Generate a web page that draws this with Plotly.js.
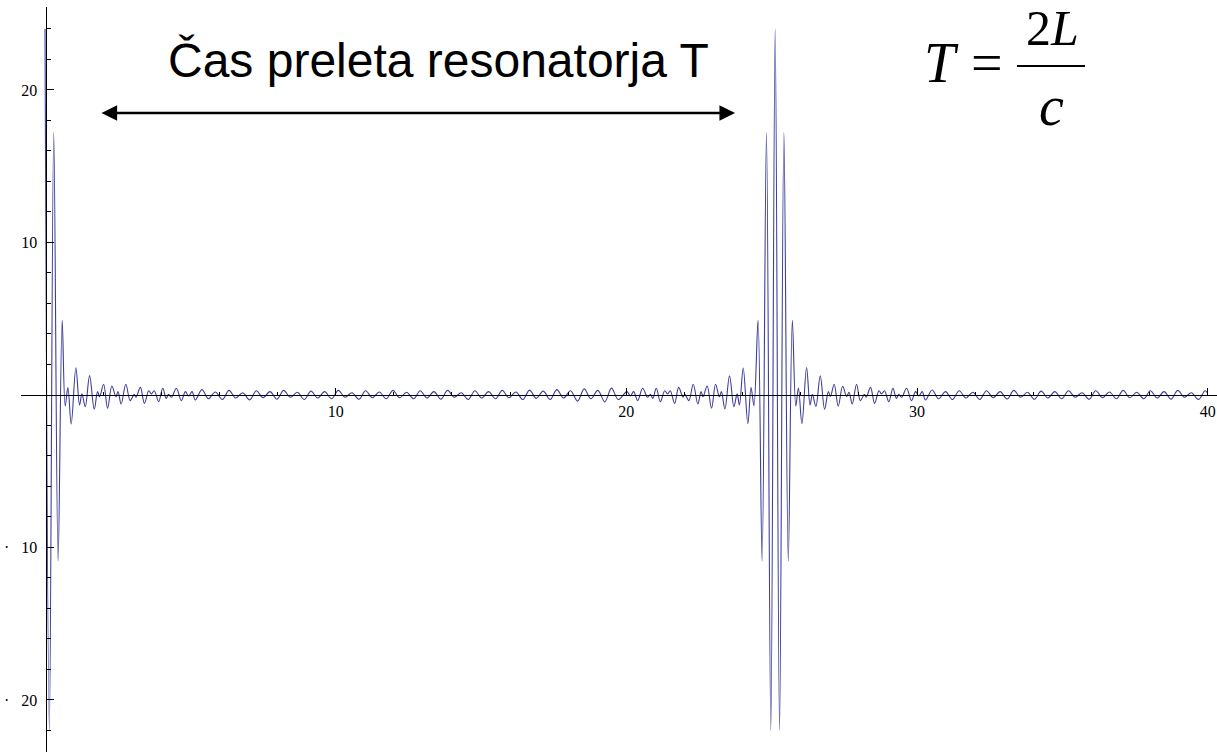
<!DOCTYPE html>
<html>
<head>
<meta charset="utf-8">
<script src="https://cdn.plot.ly/plotly-3.0.1.min.js"></script>
<style>html,body{margin:0;padding:0;background:#fff;}#chart{width:1217px;height:752px;}</style>
</head>
<body>
<div id="chart"></div>
<script>
// ---- data (local extrema of the signal) ----
var pulse1T = [0.00, 0.15, 0.30, 0.45, 0.59];
var pulse1V = [24.0, -22.0, 17.2, -10.9, 4.9];

var tail1T = [0.695, 0.787, 0.901, 1.062, 1.188, 1.269, 1.384, 1.533, 1.694, 1.808, 1.877, 2.015, 2.153, 2.30, 2.44, 2.51, 2.62, 2.78, 2.93, 3.07, 3.13, 3.28, 3.42, 3.57, 3.66, 3.76, 3.91, 4.05, 4.17, 4.25, 4.35, 4.52, 4.69, 4.83, 4.94, 5.06, 5.17];
var tail1V = [-0.72, 0.48, -1.90, 1.79, -0.66, 0.07, -0.77, 1.27, -0.94, 0.22, -0.11, 0.70, -0.87, 0.59, -0.11, 0.22, -0.59, 0.70, -0.37, 0.04, -0.15, 0.50, -0.55, 0.28, 0.07, 0.28, -0.44, 0.44, -0.22, 0.04, -0.15, 0.44, -0.37, 0.22, -0.07, 0.22, -0.33];

var mid1T = [5.40, 5.62, 5.86, 6.10, 6.33, 6.56, 6.80, 7.04, 7.27, 7.50, 7.74, 7.98, 8.21, 8.44, 8.68, 8.92, 9.15, 9.38, 9.62, 9.86, 10.09, 10.32, 10.56, 10.80, 11.03, 11.26, 11.50, 11.74, 11.97, 12.20, 12.44, 12.68, 12.91, 13.14, 13.38, 13.62, 13.85, 14.08, 14.32, 14.56, 14.79, 15.02, 15.26, 15.50, 15.73, 15.96, 16.20, 16.44, 16.67, 16.90, 17.14, 17.38, 17.61, 17.84, 18.08, 18.32, 18.55, 18.78, 19.02, 19.26, 19.49, 19.72];
var mid1V = [0.35, -0.25, 0.20, -0.30, 0.30, -0.20, 0.15, -0.32, 0.28, -0.18,
             0.22, -0.28, 0.30, -0.15, 0.18, -0.30, 0.25, -0.20, 0.22, -0.25,
             0.30, -0.15, 0.15, -0.28, 0.28, -0.18, 0.20, -0.25, 0.30, -0.18,
             0.18, -0.25, 0.28, -0.20, 0.22, -0.28, 0.30, -0.15, 0.15, -0.30,
             0.28, -0.20, 0.22, -0.25, 0.30, -0.18, 0.20, -0.30, 0.32, -0.22,
             0.25, -0.30, 0.35, -0.20, 0.28, -0.40, 0.40, -0.25, 0.30, -0.45,
             0.45, -0.30];

var pre2T = [20.02, 20.14, 20.25, 20.39, 20.56, 20.73, 20.83, 20.91, 21.03, 21.17, 21.32, 21.42, 21.51, 21.66, 21.80, 21.95, 22.01, 22.15, 22.30, 22.46, 22.57, 22.64, 22.78, 22.93, 23.07, 23.20, 23.27, 23.39, 23.55, 23.70, 23.81, 23.89, 24.02, 24.18, 24.29, 24.39];
var pre2V = [0.22, -0.07, 0.22, -0.37, 0.44, -0.15, 0.04, -0.22, 0.44, -0.44, 0.28, 0.07, 0.28, -0.55, 0.50, -0.15, 0.04, -0.37, 0.70, -0.59, 0.22, -0.11, 0.59, -0.87, 0.70, -0.11, 0.22, -0.92, 1.25, -0.77, 0.07, -0.66, 1.77, -1.88, 0.49, -0.71];

var pulse2T = [24.53, 24.67, 24.82, 24.97, 25.12, 25.27, 25.42, 25.57, 25.71];
var pulse2V = [4.9, -10.9, 17.2, -22.0, 24.0, -22.0, 17.2, -10.9, 4.9];

var post2T = [25.83, 25.92, 26.04, 26.20, 26.32, 26.40, 26.52, 26.67, 26.82, 26.95, 27.02, 27.15, 27.29, 27.44, 27.58, 27.66, 27.77, 27.92, 28.05, 28.19, 28.25, 28.40, 28.54, 28.69, 28.78, 28.88, 29.03, 29.17, 29.29, 29.37, 29.47, 29.64, 29.81, 29.95, 30.06, 30.18, 30.29];
var post2V = [-0.72, 0.46, -1.88, 1.80, -0.66, 0.04, -0.75, 1.26, -0.93, 0.22, -0.09, 0.70, -0.74, 0.57, -0.09, 0.18, -0.59, 0.70, -0.37, 0.04, -0.15, 0.50, -0.55, 0.28, 0.07, 0.28, -0.44, 0.44, -0.22, 0.04, -0.15, 0.44, -0.37, 0.22, -0.07, 0.22, -0.33];

var mid2T = [30.52, 30.74, 30.98, 31.22, 31.45, 31.68, 31.92, 32.16, 32.39, 32.62, 32.86, 33.10, 33.33, 33.56, 33.80, 34.04, 34.27, 34.50, 34.74, 34.98, 35.21, 35.44, 35.68, 35.92, 36.15, 36.38, 36.62, 36.86, 37.09, 37.32, 37.56, 37.80, 38.03, 38.26, 38.50, 38.74, 38.97, 39.20, 39.44, 39.68, 39.91, 40.00];
var mid2V = [0.33, -0.25, 0.22, -0.30, 0.28, -0.20, 0.18, -0.30, 0.28, -0.18,
             0.22, -0.26, 0.30, -0.15, 0.18, -0.28, 0.25, -0.20, 0.22, -0.25,
             0.28, -0.15, 0.15, -0.28, 0.28, -0.18, 0.20, -0.25, 0.30, -0.18,
             0.18, -0.25, 0.28, -0.20, 0.22, -0.28, 0.30, -0.15, 0.15, -0.30,
             0.28, 0.10];

// axis ticks
var xTickVals = [10, 20, 30, 40];
var xTickText = ['10', '20', '30', '40'];
var xMinorVals = [2, 4, 6, 8, 12, 14, 16, 18, 22, 24, 26, 28, 32, 34, 36, 38];
var yTickVals = [-20, -10, 10, 20];
var yTickText = ['\u00b7\u00a0\u00a0\u00a020', '\u00b7\u00a0\u00a0\u00a010', '10', '20'];
var yMinorVals = [-22, -18, -16, -14, -12, -8, -6, -4, -2, 2, 4, 6, 8, 12, 14, 16, 18, 22, 24];

// labels
var headline = 'Čas preleta resonatorja T';

var xs = [].concat(pulse1T, tail1T, mid1T, pre2T, pulse2T, post2T, mid2T);
var ys = [].concat(pulse1V, tail1V, mid1V, pre2V, pulse2V, post2V, mid2V);

var W = 1217, H = 752;
var px = function (p) { return p / W; };
var py = function (p) { return 1 - p / H; };

var trace = {
  x: xs, y: ys, type: 'scatter', mode: 'lines',
  line: {color: '#3d3d99', width: 1.1, shape: 'spline', smoothing: 1},
  hoverinfo: 'skip'
};

var serif = 'Liberation Serif, Times New Roman, serif';
var layout = {
  width: W, height: H,
  margin: {l: 0, r: 0, t: 0, b: 0},
  paper_bgcolor: '#ffffff', plot_bgcolor: '#ffffff',
  showlegend: false,
  xaxis: {
    domain: [21 / W, 1],
    range: [-0.826, 40.32],
    anchor: 'free', position: 1 - 395 / H,
    showline: true, linecolor: '#000', linewidth: 1,
    showgrid: false, zeroline: false,
    tickmode: 'array', tickvals: xTickVals, ticktext: xTickText,
    ticks: 'inside', ticklen: 7, tickwidth: 1, tickcolor: '#000',
    ticklabelstandoff: 2,
    tickfont: {family: serif, size: 16, color: '#000'},
    minor: {tickmode: 'array', tickvals: xMinorVals, ticks: 'inside', ticklen: 3, tickwidth: 1, tickcolor: '#000', showgrid: false}
  },
  yaxis: {
    domain: [0, 745 / H],
    range: [-23.41, 25.44],
    anchor: 'free', position: 45.5 / W,
    showline: true, linecolor: '#000', linewidth: 1,
    showgrid: false, zeroline: false,
    tickmode: 'array', tickvals: yTickVals, ticktext: yTickText,
    ticks: 'inside', ticklen: 7, tickwidth: 1, tickcolor: '#000',
    ticklabelstandoff: 5,
    tickfont: {family: serif, size: 16, color: '#000'},
    minor: {tickmode: 'array', tickvals: yMinorVals, ticks: 'inside', ticklen: 4, tickwidth: 1, tickcolor: '#000', showgrid: false}
  },
  shapes: [
    {type: 'line', xref: 'paper', yref: 'paper', x0: px(1017), x1: px(1085), y0: py(66), y1: py(66), line: {color: '#000', width: 2}}
  ],
  annotations: [
    {xref: 'paper', yref: 'paper', x: px(438.5), y: py(61), xanchor: 'center', yanchor: 'middle', showarrow: false,
     text: headline, font: {family: 'Liberation Sans, Arial, sans-serif', size: 48, color: '#000'}},
    {xref: 'x', yref: 'y', axref: 'x', ayref: 'y', x: 23.74, y: 18.49, ax: 1.892, ay: 18.49, text: '',
     showarrow: true, arrowside: 'end+start', arrowhead: 2, startarrowhead: 2, arrowsize: 1.25, startarrowsize: 1.25,
     arrowwidth: 2.5, arrowcolor: '#000', standoff: 0, startstandoff: 0},
    {xref: 'paper', yref: 'paper', x: px(941), y: py(63), xanchor: 'center', yanchor: 'middle', showarrow: false,
     text: '<i>T</i>', font: {family: serif, size: 56, color: '#000'}},
    {xref: 'paper', yref: 'paper', x: px(987), y: py(63), xanchor: 'center', yanchor: 'middle', showarrow: false,
     text: '=', font: {family: serif, size: 56, color: '#000'}},
    {xref: 'paper', yref: 'paper', x: px(1052), y: py(28), xanchor: 'center', yanchor: 'middle', showarrow: false, borderpad: 0,
     text: '2<i>L</i>', font: {family: serif, size: 50, color: '#000'}},
    {xref: 'paper', yref: 'paper', x: px(1051), y: py(106), xanchor: 'center', yanchor: 'middle', showarrow: false,
     text: '<i>c</i>', font: {family: serif, size: 56, color: '#000'}}
  ]
};

Plotly.newPlot('chart', [trace], layout, {displayModeBar: false, staticPlot: true});
</script>
</body>
</html>
